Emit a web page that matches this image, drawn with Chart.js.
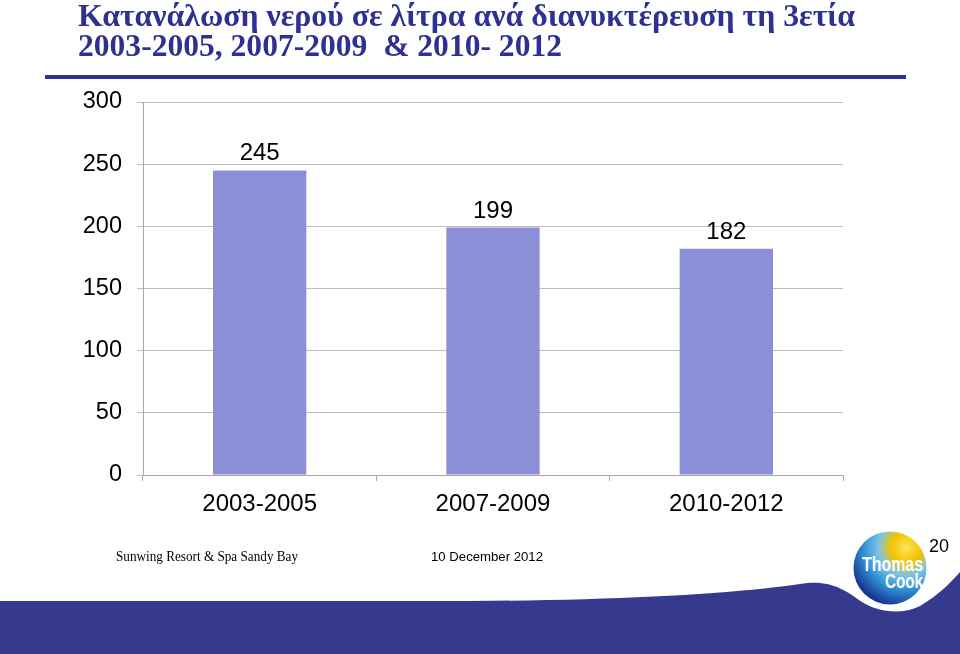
<!DOCTYPE html>
<html>
<head>
<meta charset="utf-8">
<script src="https://cdn.jsdelivr.net/npm/chart.js@4.4.1/dist/chart.umd.min.js"></script>
<style>
  html, body { margin: 0; padding: 0; background: #fff; }
  #wrap { position: relative; width: 960px; height: 654px; overflow: hidden; background: #fff; }
  #bg { position: absolute; left: 0; top: 0; }
  #chartBox { position: absolute; left: 0; top: 0; width: 960px; height: 654px; }
  .title { position: absolute; left: 78px; font-family: "Times New Roman", "Liberation Serif", serif; font-weight: bold;
           color: #2E3192; font-size: 31px; line-height: 30px; white-space: pre; transform-origin: 0 0; }
  #rule { position: absolute; left: 45px; top: 75px; width: 861px; height: 4px; background: #2E3192; }
  .foot { position: absolute; white-space: pre; color: #000; transform-origin: 0 0; }
</style>
</head>
<body>
<div id="wrap">
  <svg id="bg" width="960" height="654" viewBox="0 0 960 654">
    <defs>
      <radialGradient id="lg" cx="0.72" cy="0.22" r="0.95">
        <stop offset="0" stop-color="#FFE45A"/>
        <stop offset="0.22" stop-color="#F2C300"/>
        <stop offset="0.40" stop-color="#7CC4E8"/>
        <stop offset="0.62" stop-color="#2F8ED3"/>
        <stop offset="0.85" stop-color="#1A3A95"/>
        <stop offset="1" stop-color="#15277A"/>
      </radialGradient>
    </defs>
    <path d="M0,601 L470,601 C620,600 730,594 800,584 C830,579 845,590 862,602 C876,611 900,616 920,606 C940,594 950,583 960,572 L960,654 L0,654 Z" fill="#363A8E"/>
    <circle cx="890" cy="568" r="42" fill="#ffffff"/>
    <circle cx="890" cy="568" r="36.5" fill="url(#lg)"/>
    <text x="862" y="571" fill="#fff" font-family="'Liberation Sans Narrow','Liberation Sans',Arial,sans-serif" font-weight="bold" font-size="21" textLength="61" lengthAdjust="spacingAndGlyphs">Thomas</text>
    <text x="885" y="588" fill="#fff" font-family="'Liberation Sans Narrow','Liberation Sans',Arial,sans-serif" font-weight="bold" font-size="21" textLength="38" lengthAdjust="spacingAndGlyphs">Cook</text>
  </svg>
  <div id="chartBox"><canvas id="c"></canvas></div>
  <div class="title" id="t1" style="top:1px;">Κατανάλωση νερού σε λίτρα ανά διανυκτέρευση τη 3ετία</div>
  <div class="title" id="t2" style="top:31px;">2003-2005, 2007-2009  &amp; 2010- 2012</div>
  <div id="rule"></div>
  <div class="foot" id="f1" style="left:116px; top:549px; font-family:'Times New Roman','Liberation Serif',serif; font-size:14px;">Sunwing Resort &amp; Spa Sandy Bay</div>
  <div class="foot" id="f2" style="left:431px; top:549px; font-family:Arial,'Liberation Sans',sans-serif; font-size:13px;">10 December 2012</div>
  <div class="foot" id="f3" style="left:929px; top:536px; font-family:Arial,'Liberation Sans',sans-serif; font-size:18px;">20</div>
</div>
<script>
const categories = ["2003-2005", "2007-2009", "2010-2012"];
const waterLitres = [245, 199, 182];
const yTicks = [0, 50, 100, 150, 200, 250, 300];

// fit text widths to reference
function fitWidth(id, w) {
  const el = document.getElementById(id);
  const cur = el.getBoundingClientRect().width;
  if (cur > 0) el.style.transform = 'scaleX(' + (w / cur) + ')';
}
fitWidth('t1', 777);
fitWidth('t2', 484);
fitWidth('f1', 182);
fitWidth('f2', 112);

const valueLabels = {
  id: 'valueLabels',
  afterDatasetsDraw(chart) {
    const ctx = chart.ctx;
    const meta = chart.getDatasetMeta(0);
    ctx.save();
    ctx.font = '24px Arial, "Liberation Sans", sans-serif';
    ctx.fillStyle = '#000';
    ctx.textAlign = 'center';
    ctx.textBaseline = 'alphabetic';
    meta.data.forEach((bar, i) => {
      ctx.fillText(String(waterLitres[i]), bar.x, bar.y - 10);
    });
    ctx.restore();
  }
};

new Chart(document.getElementById('c'), {
  type: 'bar',
  data: {
    labels: categories,
    datasets: [{
      data: waterLitres,
      backgroundColor: '#8B8FD6',
      borderWidth: 0,
      barPercentage: 0.4,
      categoryPercentage: 1.0
    }]
  },
  options: {
    responsive: true,
    maintainAspectRatio: false,
    animation: false,
    layout: { padding: { left: 0, top: 102, right: 117, bottom: 0 } },
    plugins: { legend: { display: false }, tooltip: { enabled: false } },
    scales: {
      x: {
        offset: true,
        grid: { display: true, drawOnChartArea: false, offset: true, color: '#A6A6A6', tickLength: 6 },
        border: { display: true, color: '#A6A6A6', width: 1 },
        ticks: { color: '#000', font: { family: 'Arial, "Liberation Sans", sans-serif', size: 24 }, padding: 9 },
        afterFit(s) { s.height = 179; }
      },
      y: {
        min: 0, max: 300,
        afterBuildTicks(s) { s.ticks = yTicks.map(v => ({ value: v })); },
        grid: { color: '#BDBDBD', tickLength: 6, drawTicks: true },
        border: { display: true, color: '#A6A6A6', width: 1 },
        ticks: { color: '#000', font: { family: 'Arial, "Liberation Sans", sans-serif', size: 23.5 }, padding: 15 },
        afterFit(s) { s.width = 143; }
      }
    }
  },
  plugins: [valueLabels]
});
</script>
</body>
</html>
